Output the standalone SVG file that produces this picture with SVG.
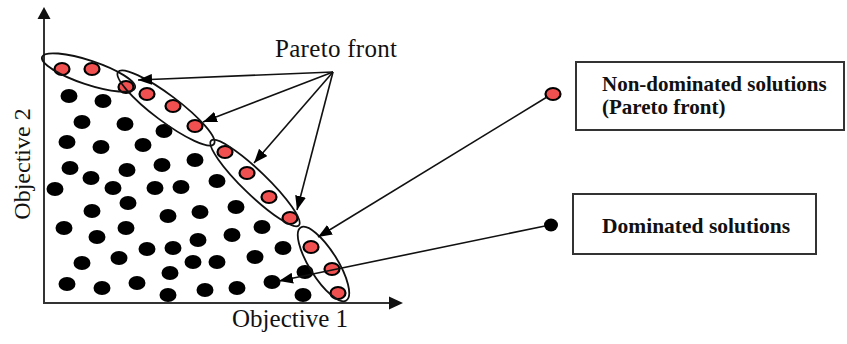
<svg xmlns="http://www.w3.org/2000/svg" width="847" height="344" viewBox="0 0 847 344">
<style>
.serif{font-family:"Liberation Serif","Times New Roman",serif;fill:#111}
.bold{font-weight:bold}
.axis{stroke:#333;stroke-width:2;fill:none}
.ax-head{fill:#111}
.d{fill:#000}
.r{fill:#f0504f;stroke:#000;stroke-width:2.2}
.ell{fill:none;stroke:#111;stroke-width:1.8}
.conn{stroke:#111;stroke-width:1.6;fill:none;marker-end:url(#ah)}
.box{fill:#fff;stroke:#333;stroke-width:2}
</style>
<defs>
<marker id="ah" viewBox="0 0 14 11" refX="14" refY="5.5" markerWidth="14" markerHeight="11" markerUnits="userSpaceOnUse" orient="auto">
<path d="M0,0 L14,5.5 L0,11 z" fill="#000"/>
</marker>
</defs>
<rect width="847" height="344" fill="#fff"/>

<g id="axes">
<path class="axis" d="M44,18 L44,303 L390,303"/>
<path class="ax-head" d="M44,7 L50.5,19 L37.5,19 z"/>
<path class="ax-head" d="M403,303 L389,296.5 L389,309.5 z"/>
<text class="serif" x="232" y="327" font-size="25" textLength="116">Objective 1</text>
<text class="serif" x="30" y="164" font-size="24" text-anchor="middle" transform="rotate(-90 30 164)">Objective 2</text>
</g>

<g id="dominated-dots">
<ellipse class="d" cx="69" cy="96" rx="8.5" ry="7"/>
<ellipse class="d" cx="103" cy="101" rx="8.5" ry="7"/>
<ellipse class="d" cx="82" cy="122" rx="8.5" ry="7"/>
<ellipse class="d" cx="125" cy="124" rx="8.5" ry="7"/>
<ellipse class="d" cx="164" cy="131" rx="8.5" ry="7"/>
<ellipse class="d" cx="67" cy="142" rx="8.5" ry="7"/>
<ellipse class="d" cx="101" cy="147" rx="8.5" ry="7"/>
<ellipse class="d" cx="143" cy="145" rx="8.5" ry="7"/>
<ellipse class="d" cx="70" cy="168" rx="8.5" ry="7"/>
<ellipse class="d" cx="91" cy="178" rx="8.5" ry="7"/>
<ellipse class="d" cx="127" cy="170" rx="8.5" ry="7"/>
<ellipse class="d" cx="162" cy="165" rx="8.5" ry="7"/>
<ellipse class="d" cx="195" cy="160" rx="8.5" ry="7"/>
<ellipse class="d" cx="55" cy="189" rx="8.5" ry="7"/>
<ellipse class="d" cx="113" cy="188" rx="8.5" ry="7"/>
<ellipse class="d" cx="155" cy="188" rx="8.5" ry="7"/>
<ellipse class="d" cx="181" cy="187" rx="8.5" ry="7"/>
<ellipse class="d" cx="217" cy="181" rx="8.5" ry="7"/>
<ellipse class="d" cx="128" cy="203" rx="8.5" ry="7"/>
<ellipse class="d" cx="92" cy="211" rx="8.5" ry="7"/>
<ellipse class="d" cx="168" cy="216" rx="8.5" ry="7"/>
<ellipse class="d" cx="200" cy="212" rx="8.5" ry="7"/>
<ellipse class="d" cx="236" cy="207" rx="8.5" ry="7"/>
<ellipse class="d" cx="64" cy="228" rx="8.5" ry="7"/>
<ellipse class="d" cx="126" cy="228" rx="8.5" ry="7"/>
<ellipse class="d" cx="97" cy="237" rx="8.5" ry="7"/>
<ellipse class="d" cx="262" cy="227" rx="8.5" ry="7"/>
<ellipse class="d" cx="232" cy="235" rx="8.5" ry="7"/>
<ellipse class="d" cx="198" cy="240" rx="8.5" ry="7"/>
<ellipse class="d" cx="147" cy="249" rx="8.5" ry="7"/>
<ellipse class="d" cx="173" cy="248" rx="8.5" ry="7"/>
<ellipse class="d" cx="283" cy="248" rx="8.5" ry="7"/>
<ellipse class="d" cx="119" cy="258" rx="8.5" ry="7"/>
<ellipse class="d" cx="82" cy="263" rx="8.5" ry="7"/>
<ellipse class="d" cx="193" cy="262" rx="8.5" ry="7"/>
<ellipse class="d" cx="217" cy="262" rx="8.5" ry="7"/>
<ellipse class="d" cx="255" cy="257" rx="8.5" ry="7"/>
<ellipse class="d" cx="170" cy="273" rx="8.5" ry="7"/>
<ellipse class="d" cx="305" cy="272" rx="8.5" ry="7"/>
<ellipse class="d" cx="67" cy="284" rx="8.5" ry="7"/>
<ellipse class="d" cx="102" cy="288" rx="8.5" ry="7"/>
<ellipse class="d" cx="137" cy="283" rx="8.5" ry="7"/>
<ellipse class="d" cx="272" cy="282" rx="8.5" ry="7"/>
<ellipse class="d" cx="168" cy="295" rx="8.5" ry="7"/>
<ellipse class="d" cx="205" cy="290" rx="8.5" ry="7"/>
<ellipse class="d" cx="237" cy="288" rx="8.5" ry="7"/>
<ellipse class="d" cx="303" cy="295" rx="8.5" ry="7"/>
</g>

<g id="pareto-dots">
<ellipse class="r" cx="62" cy="69" rx="7.5" ry="6"/>
<ellipse class="r" cx="92" cy="69" rx="7.5" ry="6"/>
<ellipse class="r" cx="126" cy="87" rx="7.5" ry="6"/>
<ellipse class="r" cx="147" cy="94" rx="7.5" ry="6"/>
<ellipse class="r" cx="173" cy="106" rx="7.5" ry="6"/>
<ellipse class="r" cx="195" cy="126" rx="7.5" ry="6"/>
<ellipse class="r" cx="225" cy="152" rx="7.5" ry="6"/>
<ellipse class="r" cx="247" cy="173" rx="7.5" ry="6"/>
<ellipse class="r" cx="269" cy="197" rx="7.5" ry="6"/>
<ellipse class="r" cx="290" cy="218" rx="7.5" ry="6"/>
<ellipse class="r" cx="311" cy="247" rx="7.5" ry="6"/>
<ellipse class="r" cx="332" cy="269" rx="7.5" ry="6"/>
<ellipse class="r" cx="338" cy="293" rx="7.5" ry="6"/>
</g>

<g id="front-groups">
<ellipse id="front-a" class="ell" cx="88.5" cy="72.5" rx="49" ry="12" transform="rotate(18.4 88.5 72.5)"/>
<ellipse id="front-b" class="ell" cx="166" cy="108" rx="60" ry="13" transform="rotate(37 166 108)"/>
<ellipse id="front-c" class="ell" cx="255" cy="183" rx="61" ry="12" transform="rotate(44 255 183)"/>
<ellipse id="front-d" class="ell" cx="323.5" cy="264" rx="43" ry="14" transform="rotate(58 323.5 264)"/>
</g>

<g id="pareto-label">
<text class="serif" x="275" y="57" font-size="25" textLength="122">Pareto front</text>
</g>

<g id="legend-nondominated">
<rect class="box" x="576" y="62" width="268" height="68"/>
<text class="serif bold" x="602" y="91" font-size="21">Non-dominated solutions</text>
<text class="serif bold" x="602" y="114" font-size="21">(Pareto front)</text>
<ellipse class="r" cx="553" cy="94" rx="7.5" ry="6"/>
</g>

<g id="legend-dominated">
<rect class="box" x="573" y="194" width="243" height="60"/>
<text class="serif bold" x="602" y="233" font-size="21.5">Dominated solutions</text>
<ellipse class="d" cx="551" cy="225" rx="7" ry="6.5"/>
</g>

<g id="connectors">
<line class="conn" x1="333" y1="72" x2="138" y2="80"/>
<line class="conn" x1="333" y1="72" x2="203" y2="122"/>
<line class="conn" x1="333" y1="72" x2="254" y2="163"/>
<line class="conn" x1="333" y1="72" x2="297" y2="210"/>
<line class="conn" x1="547" y1="97" x2="318" y2="237"/>
<line class="conn" x1="545" y1="226" x2="279" y2="281"/>
</g>
</svg>
